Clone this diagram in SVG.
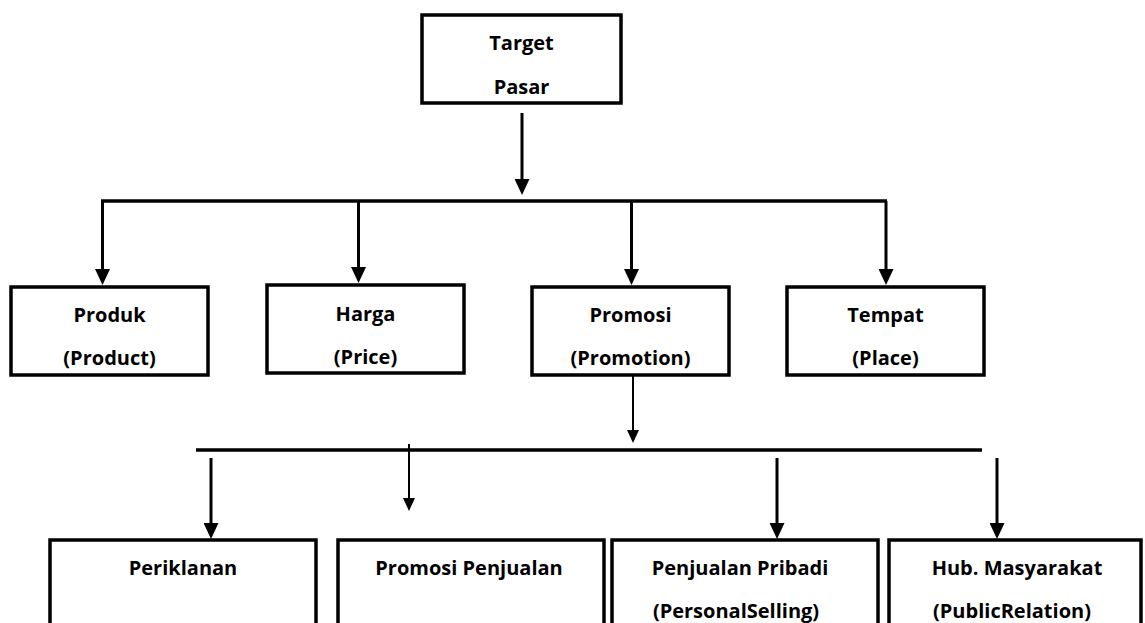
<svg xmlns="http://www.w3.org/2000/svg" width="1145" height="623" viewBox="0 0 1145 623">
  <style>
    .box { fill: #ffffff; stroke: #000000; stroke-width: 3.5; }
    .lbl { font-family: "Open Sans", "Liberation Sans", sans-serif; font-weight: bold; font-size: 20px; fill: #000000; text-anchor: middle; }
    .bar { stroke: #000000; stroke-width: 3.5; fill: none; }
    .thick { stroke: #000000; stroke-width: 3; fill: none; marker-end: url(#ahBig); }
    .thin { stroke: #000000; stroke-width: 2; fill: none; marker-end: url(#ahSmall); }
  </style>
  <defs>
    <marker id="ahBig" markerUnits="userSpaceOnUse" markerWidth="16" markerHeight="15" viewBox="0 0 16 15" refX="8" refY="7.5" orient="auto">
      <path d="M0,0 L16,7.5 L0,15 z" fill="#000000"/>
    </marker>
    <marker id="ahSmall" markerUnits="userSpaceOnUse" markerWidth="13" markerHeight="12" viewBox="0 0 13 12" refX="7" refY="6" orient="auto">
      <path d="M0,0 L13,6 L0,12 z" fill="#000000"/>
    </marker>
  </defs>
  <rect width="1145" height="623" fill="#ffffff"/>

  <g id="connectors">
    <line x1="522" y1="113" x2="522" y2="187" class="thick"/>
    <line x1="101" y1="201" x2="887" y2="201" class="bar"/>
    <line x1="102.5" y1="201" x2="102.5" y2="277" class="thick"/>
    <line x1="358.5" y1="201" x2="358.5" y2="275" class="thick"/>
    <line x1="631.5" y1="201" x2="631.5" y2="277" class="thick"/>
    <line x1="886" y1="201" x2="886" y2="277" class="thick"/>
    <line x1="633" y1="376" x2="633" y2="437" class="thin"/>
    <line x1="196" y1="450" x2="982" y2="450" class="bar"/>
    <line x1="211" y1="458" x2="211" y2="531" class="thick"/>
    <line x1="409" y1="444" x2="409" y2="505" class="thin"/>
    <line x1="777" y1="458" x2="777" y2="531" class="thick"/>
    <line x1="997" y1="458" x2="997" y2="531" class="thick"/>
  </g>

  <g id="node-target-pasar">
    <rect x="422" y="15" width="199" height="88" class="box"/>
    <text x="521.5" y="50" class="lbl">Target</text>
    <text x="521.5" y="94" class="lbl">Pasar</text>
  </g>

  <g id="node-produk">
    <rect x="11" y="287" width="197" height="88" class="box"/>
    <text x="109.5" y="322" class="lbl">Produk</text>
    <text x="109.5" y="365" class="lbl">(Product)</text>
  </g>

  <g id="node-harga">
    <rect x="267" y="285" width="197" height="88" class="box"/>
    <text x="365.5" y="321" class="lbl">Harga</text>
    <text x="365.5" y="364" class="lbl">(Price)</text>
  </g>

  <g id="node-promosi">
    <rect x="532" y="287" width="197" height="88" class="box"/>
    <text x="630.5" y="322" class="lbl">Promosi</text>
    <text x="630.5" y="365" class="lbl">(Promotion)</text>
  </g>

  <g id="node-tempat">
    <rect x="787" y="287" width="197" height="88" class="box"/>
    <text x="885.5" y="322" class="lbl">Tempat</text>
    <text x="885.5" y="365" class="lbl">(Place)</text>
  </g>

  <g id="node-periklanan">
    <rect x="50" y="540" width="266" height="110" class="box"/>
    <text x="183" y="575" class="lbl">Periklanan</text>
  </g>

  <g id="node-promosi-penjualan">
    <rect x="338" y="540" width="266" height="110" class="box"/>
    <text x="469" y="575" class="lbl">Promosi Penjualan</text>
  </g>

  <g id="node-penjualan-pribadi">
    <rect x="612" y="540" width="266" height="110" class="box"/>
    <text x="740" y="575" class="lbl">Penjualan Pribadi</text>
    <text x="736" y="618" class="lbl">(PersonalSelling)</text>
  </g>

  <g id="node-hub-masyarakat">
    <rect x="889" y="540" width="252" height="110" class="box"/>
    <text x="1017" y="575" class="lbl">Hub. Masyarakat</text>
    <text x="1012" y="618" class="lbl">(PublicRelation)</text>
  </g>
</svg>
